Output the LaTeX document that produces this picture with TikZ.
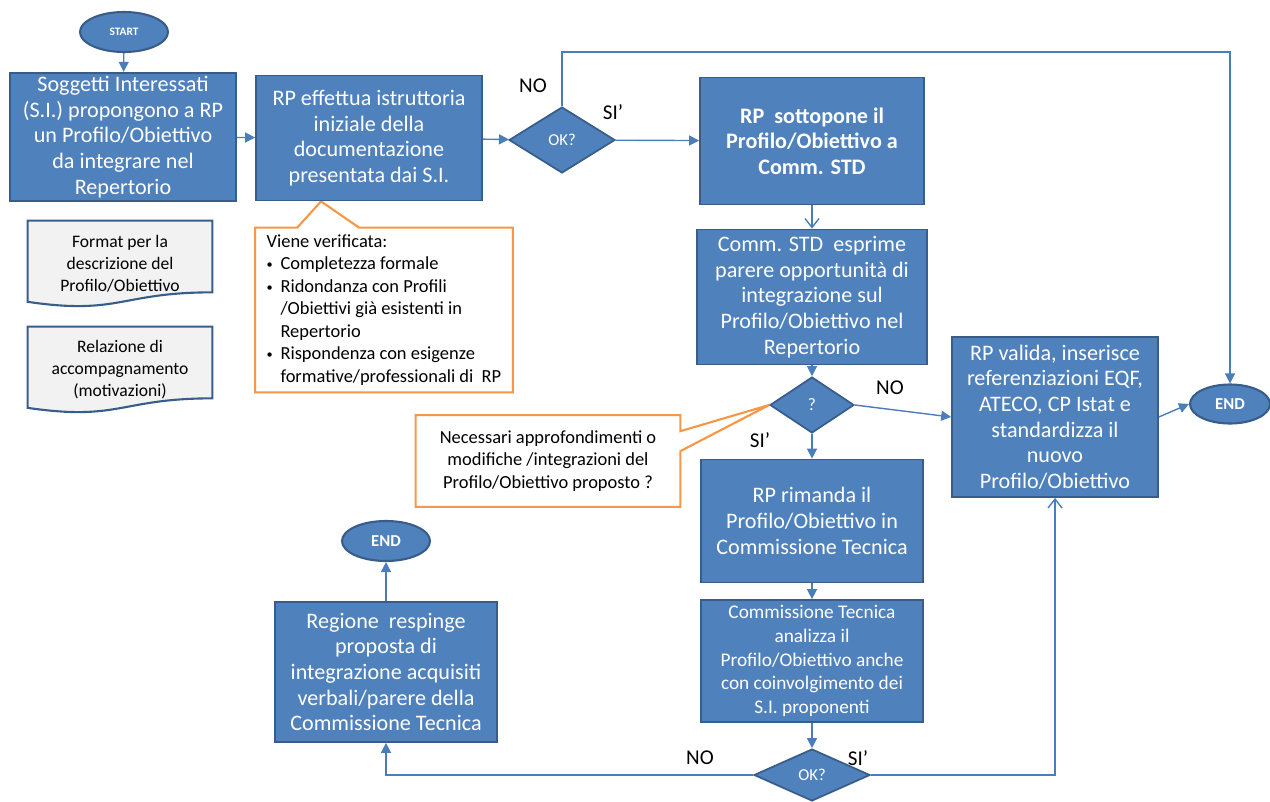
\documentclass[tikz,border=0pt]{standalone}
\usepackage{fontspec}
\setmainfont{Carlito}
\usetikzlibrary{shapes.geometric,arrows.meta,backgrounds}

\definecolor{boxblue}{HTML}{4F81BD}
\definecolor{boxedge}{HTML}{385D8A}
\definecolor{linkblue}{HTML}{4A7EBB}
\definecolor{calloutorange}{HTML}{F79646}
\definecolor{docgray}{HTML}{F2F2F2}

\tikzset{
  stepbox/.style={draw=boxedge, fill=boxblue, line width=1pt, text=white, align=center,
    inner sep=2pt, font=\fontsize{12.6}{14.6}\selectfont},
  smallbox/.style={stepbox, font=\fontsize{11}{13.6}\selectfont},
  terminal/.style={ellipse, draw=boxedge, fill=boxblue, line width=1.2pt, text=white,
    inner sep=0pt, font=\fontsize{9.5}{10}\selectfont\bfseries},
  choice/.style={diamond, draw=boxedge, fill=boxblue, line width=1pt, text=white,
    inner sep=0pt, font=\fontsize{9.5}{10}\selectfont},
  docnote/.style={align=center, inner sep=0pt, font=\fontsize{10}{12.5}\selectfont},
  docshape/.style={draw=boxedge, fill=docgray, line width=1.2pt},
  callout/.style={draw=calloutorange, fill=white, line width=1.2pt},
  notetext/.style={inner sep=0pt, font=\fontsize{10.5}{12.8}\selectfont},
  link/.style={draw=linkblue, line width=0.8pt, -{Triangle[length=0.2cm,width=0.2cm]}},
  openlink/.style={draw=linkblue, line width=0.8pt, -{Straight Barb[length=0.18cm,width=0.28cm]}},
  answer/.style={text=black, inner sep=0pt, font=\fontsize{12}{14}\selectfont},
}
\newcommand{\itm}{\makebox[0.75em][l]{\raisebox{0.15ex}{\fontsize{7}{7}\selectfont\textbullet}}}
\newcommand{\cnt}{\hspace*{0.75em}}

\begin{document}
\begin{tikzpicture}[x=0.02cm, y=-0.02cm]
  \useasboundingbox (0,0) rectangle (1270,801);

  % left column
  \node (start) at (124,32) [terminal, minimum width=1.76cm, minimum height=0.8cm,
    font=\fontsize{6.5}{8}\selectfont\bfseries] {START};
  \node (propose) at (123,137) [stepbox, minimum width=4.52cm, minimum height=2.5cm]
    {Soggetti Interessati\\(S.I.) propongono a RP\\un Profilo/Obiettivo\\da integrare nel\\Repertorio};

  \node (format) at (120,264) [docnote, minimum width=3.68cm, minimum height=1.72cm]
    {Format per la\\descrizione del\\Profilo/Obiettivo};
  \node (report) at (120,370) [docnote, minimum width=3.68cm, minimum height=1.72cm]
    {Relazione di\\accompagnamento\\(motivazioni)};

  % first check
  \node (explore) at (369,138) [stepbox, minimum width=4.52cm, minimum height=2.5cm]
    {RP effettua istruttoria\\iniziale della\\documentazione\\presentata dai S.I.};
  \node (ok1) at (562,140) [choice, minimum width=2.12cm, minimum height=1.32cm] {OK?};

  \node (checks) at (384,310) [notetext, align=left, minimum width=5.14cm, minimum height=3.28cm]
    {Viene verificata:\\
     \itm Completezza formale\\
     \itm Ridondanza con Profili\\
     \cnt/Obiettivi già esistenti in\\
     \cnt Repertorio\\
     \itm Rispondenza con esigenze\\
     \cnt formative/professionali di~ RP};

  % middle column
  \node (submit) at (812,141) [stepbox, minimum width=4.48cm, minimum height=2.54cm,
    font=\fontsize{12.6}{14.6}\selectfont\bfseries]
    {RP~ sottopone il\\Profilo/Obiettivo a\\Comm. STD};
  \node (opinion) at (812,297) [stepbox, minimum width=4.6cm, minimum height=2.7cm]
    {Comm. STD~ esprime\\parere opportunità di\\integrazione sul\\Profilo/Obiettivo nel\\Repertorio};
  \node (q2) at (812,405) [choice, minimum width=1.68cm, minimum height=1.12cm,
    font=\fontsize{10}{11}\selectfont] {?};

  \node (query) at (548,461) [notetext, align=center, minimum width=5.28cm, minimum height=1.82cm]
    {Necessari approfondimenti o\\modifiche /integrazioni del\\Profilo/Obiettivo proposto ?};

  \node (resend) at (812,521) [stepbox, minimum width=4.44cm, minimum height=2.46cm]
    {RP rimanda il\\Profilo/Obiettivo in\\Commissione Tecnica};
  \node (analyse) at (812,661) [smallbox, minimum width=4.44cm, minimum height=2.44cm]
    {Commissione Tecnica\\analizza il\\Profilo/Obiettivo anche\\con coinvolgimento dei\\S.I. proponenti};
  \node (ok3) at (812,775) [choice, minimum width=2.32cm, minimum height=1.04cm] {OK?};

  % rejection
  \node (reject) at (386,672) [stepbox, minimum width=4.44cm, minimum height=2.8cm]
    {Regione~ respinge\\proposta di\\integrazione acquisiti\\verbali/parere della\\Commissione Tecnica};
  \node (end2) at (386,541) [terminal, minimum width=1.76cm, minimum height=0.8cm] {END};

  % right column
  \node (validate) at (1055,417) [stepbox, minimum width=4.12cm, minimum height=3.2cm]
    {RP valida, inserisce\\referenziazioni EQF,\\ATECO, CP Istat e\\standardizza il\\nuovo\\Profilo/Obiettivo};
  \node (end1) at (1230,404) [terminal, minimum width=1.6cm, minimum height=0.78cm] {END};

  % document shapes and callouts
  \begin{scope}[on background layer]
    \draw[docshape] (format.north west) -- (format.north east) -- ([yshift=0.3cm]format.south east)
      .. controls ([xshift=-1.84cm,yshift=0.3cm]format.south east) and ([xshift=1.84cm,yshift=-0.16cm]format.south west)
      .. ([yshift=0.11cm]format.south west) -- cycle;
    \draw[docshape] (report.north west) -- (report.north east) -- ([yshift=0.3cm]report.south east)
      .. controls ([xshift=-1.84cm,yshift=0.3cm]report.south east) and ([xshift=1.84cm,yshift=-0.16cm]report.south west)
      .. ([yshift=0.11cm]report.south west) -- cycle;

    \draw[callout] (checks.north west) -- ([xshift=0.84cm]checks.north west) -- ([xshift=-0.96cm]explore.south)
      -- ([xshift=2.08cm]checks.north west) -- (checks.north east) -- (checks.south east)
      -- (checks.south west) -- cycle;
    \draw[callout] (query.north west) -- (query.north east) -- ([yshift=-0.32cm]query.north east)
      -- (q2.west) -- ([yshift=-0.72cm]query.north east) -- (query.south east)
      -- (query.south west) -- cycle;
  \end{scope}

  % connectors
  \coordinate (loopTop) at (562,52);
  \coordinate (rejectTurn) at (386,775);
  \coordinate (acceptTurn) at (1055,775);

  \draw[link] (start) -- (propose);
  \draw[link] (propose) -- (explore);
  \draw[link] (explore) -- (ok1);
  \draw[link] (ok1) -- (submit);
  \draw[link] (ok1.north) -- (loopTop) -| (end1.north);
  \draw[openlink] (submit) -- (opinion);
  \draw[link] (opinion) -- (q2);
  \draw[link] (q2.east) -- (validate.west);
  \draw[link] (q2) -- (resend);
  \draw[link] (resend) -- (analyse);
  \draw[link] (analyse) -- (ok3);
  \draw[link] (ok3.west) -- (rejectTurn) -- (reject.south);
  \draw[openlink] (ok3.east) -- (acceptTurn) -- (validate.south);
  \draw[link] (reject) -- (end2);
  \draw[link] (validate.east) -- (end1.west);

  % answers
  \node (noA) at (533,86) [answer] {NO};
  \node (siA) at (613,112) [answer] {SI’};
  \node (noB) at (890,388) [answer] {NO};
  \node (siB) at (760,440) [answer] {SI’};
  \node (noC) at (700,758) [answer] {NO};
  \node (siC) at (858,758) [answer] {SI’};
\end{tikzpicture}
\end{document}
